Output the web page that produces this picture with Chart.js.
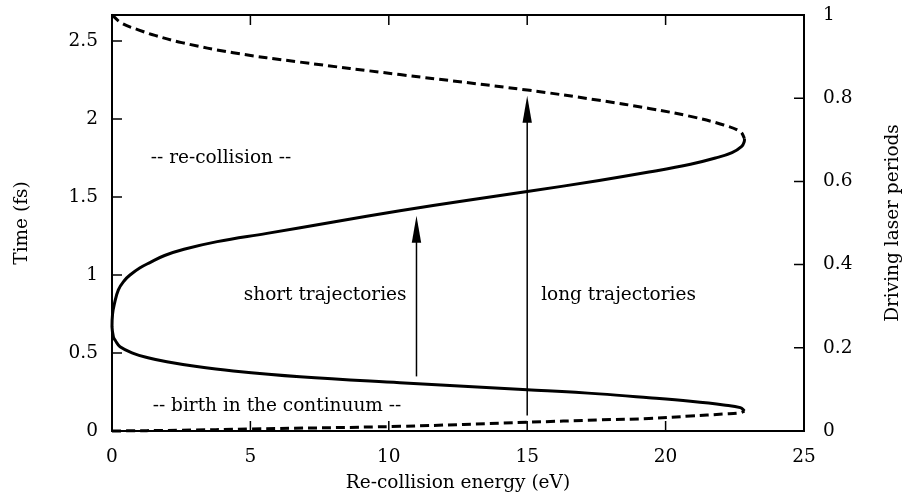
<!DOCTYPE html>
<html>
<head>
<meta charset="utf-8">
<script src="https://cdn.jsdelivr.net/npm/chart.js@4.4.0/dist/chart.umd.min.js"></script>
<style>
  html, body { margin: 0; padding: 0; background: #fff; }
  canvas { display: block; }
</style>
</head>
<body>
<canvas id="chart" width="917" height="499"></canvas>
<script>
// one period of the 800 nm driving laser, in fs (right axis runs 0..1 of it)
const period = 2.667;

// short trajectories, re-collision branch (solid, upper half), starting at zero energy
const shortReturnE = [0, 0.02, 0.08, 0.23, 0.45, 0.65, 1.0, 1.37, 1.9, 2.6, 3.8, 5.6, 8.0, 10.4, 12.8, 15.0, 17.6, 19.4, 20.9, 21.8, 22.4, 22.75, 22.84, 22.85];
const shortReturnT = [0.669, 0.75, 0.81, 0.905, 0.965, 1.0, 1.045, 1.08, 1.125, 1.165, 1.214, 1.267, 1.34, 1.412, 1.478, 1.535, 1.606, 1.66, 1.71, 1.75, 1.785, 1.825, 1.855, 1.876];

// short trajectories, birth branch (solid, lower half)
const shortBirthE = [0, 0.05, 0.12, 0.29, 0.77, 1.3, 1.98, 3.0, 4.38, 6.79, 10.4, 15.0, 17.6, 19.4, 20.9, 22.1, 22.7, 22.85];
const shortBirthT = [0.669, 0.604, 0.58, 0.540, 0.498, 0.47, 0.444, 0.415, 0.385, 0.348, 0.310, 0.265, 0.238, 0.213, 0.190, 0.167, 0.150, 0.128];

// long trajectories, re-collision branch (dashed, top)
const longReturnE = [0, 0.35, 0.95, 1.55, 2.52, 4.38, 6.79, 10.4, 15.0, 17.6, 19.4, 20.9, 22.1, 22.7, 22.85];
const longReturnT = [2.667, 2.615, 2.572, 2.536, 2.49, 2.425, 2.365, 2.285, 2.186, 2.12, 2.068, 2.017, 1.962, 1.919, 1.876];

// long trajectories, birth branch (dashed, bottom)
const longBirthE = [0, 2.5, 5.0, 10.4, 15.0, 17.6, 19.4, 20.9, 22.1, 22.7, 22.85];
const longBirthT = [0, 0.005, 0.013, 0.03, 0.056, 0.071, 0.08, 0.096, 0.109, 0.117, 0.128];

const xTicks = [0, 5, 10, 15, 20, 25];
const timeTicks = [0, 0.5, 1, 1.5, 2, 2.5];
const periodTicks = [0, 0.2, 0.4, 0.6, 0.8, 1];

const FONT = "'DejaVu Serif', serif";
const FS = 18.5;

function pts(xs, ys) {
  return xs.map((x, i) => ({ x: x, y: ys[i] }));
}

// the solid curve runs from the cut-off at the top, through zero energy, down to the cut-off at the bottom
const shortCurve = pts(shortReturnE, shortReturnT).reverse().concat(pts(shortBirthE, shortBirthT).slice(1));

// annotation text and arrows, placed in data coordinates
const notes = [
  { text: '-- re-collision --', x: 3.94, y: 1.75 },
  { text: 'short trajectories', x: 7.7, y: 0.872 },
  { text: 'long trajectories', x: 18.3, y: 0.872 },
  { text: '-- birth in the continuum --', x: 5.96, y: 0.156 }
];
const arrows = [
  { x: 11, from: 0.35, to: 1.38 },
  { x: 15, from: 0.10, to: 2.15 }
];

const framePlugin = {
  id: 'frame',
  afterDatasetsDraw(chart) {
    const { ctx, chartArea: a, scales: { x, y, y2 } } = chart;
    ctx.save();
    ctx.strokeStyle = '#000';
    ctx.fillStyle = '#000';

    // inward ticks, gnuplot style
    const tl = 10;
    ctx.lineWidth = 1.5;
    ctx.beginPath();
    xTicks.forEach(v => {
      const px = x.getPixelForValue(v);
      ctx.moveTo(px, a.bottom); ctx.lineTo(px, a.bottom - tl);
      ctx.moveTo(px, a.top); ctx.lineTo(px, a.top + tl);
    });
    timeTicks.forEach(v => {
      const py = y.getPixelForValue(v);
      ctx.moveTo(a.left, py); ctx.lineTo(a.left + tl, py);
    });
    periodTicks.forEach(v => {
      const py = y2.getPixelForValue(v);
      ctx.moveTo(a.right, py); ctx.lineTo(a.right - tl, py);
    });
    ctx.stroke();

    ctx.lineWidth = 2;
    ctx.strokeRect(a.left, a.top, a.right - a.left, a.bottom - a.top);

    // arrows
    const headL = 27, headW = 4.7;
    arrows.forEach(ar => {
      const px = x.getPixelForValue(ar.x);
      const y0 = y.getPixelForValue(ar.from);
      const y1 = y.getPixelForValue(ar.to);
      ctx.lineWidth = 1.5;
      ctx.beginPath();
      ctx.moveTo(px, y0);
      ctx.lineTo(px, y1 + headL - 2);
      ctx.stroke();
      ctx.beginPath();
      ctx.moveTo(px, y1);
      ctx.lineTo(px - headW, y1 + headL);
      ctx.lineTo(px + headW, y1 + headL);
      ctx.closePath();
      ctx.fill();
    });

    // labels inside the plot
    ctx.font = FS + 'px ' + FONT;
    ctx.textAlign = 'center';
    ctx.textBaseline = 'middle';
    notes.forEach(n => {
      ctx.fillText(n.text, x.getPixelForValue(n.x), y.getPixelForValue(n.y));
    });

    // right axis title reads bottom to top
    ctx.translate(893, (a.top + a.bottom) / 2);
    ctx.rotate(-Math.PI / 2);
    ctx.fillText('Driving laser periods', 0, 0);
    ctx.restore();
  }
};

function lineSet(data, dashed) {
  return {
    data: data,
    showLine: true,
    borderColor: '#000',
    borderWidth: 3,
    borderDash: dashed ? [9, 5] : [],
    pointRadius: 0,
    tension: 0.4,
    fill: false,
    clip: 3
  };
}

// fixed axis sizes, and no extra room for overhanging tick labels
function fixSize(w, h) {
  return s => {
    if (w) s.width = w;
    if (h) s.height = h;
    s.paddingTop = 0; s.paddingBottom = 0; s.paddingLeft = 0; s.paddingRight = 0;
  };
}

new Chart(document.getElementById('chart'), {
  type: 'scatter',
  data: {
    datasets: [
      lineSet(shortCurve, false),
      lineSet(pts(longReturnE, longReturnT), true),
      lineSet(pts(longBirthE, longBirthT), true)
    ]
  },
  options: {
    responsive: false,
    animation: false,
    devicePixelRatio: 1,
    layout: { padding: { top: 15, left: 0, right: 0, bottom: 0 } },
    plugins: { legend: { display: false }, tooltip: { enabled: false } },
    scales: {
      x: {
        type: 'linear', position: 'bottom', min: 0, max: 25,
        afterBuildTicks: s => { s.ticks = xTicks.map(v => ({ value: v })); },
        afterFit: fixSize(0, 68),
        grid: { display: false, drawTicks: false },
        border: { display: false },
        ticks: { color: '#000', font: { family: FONT, size: FS }, padding: 15, maxRotation: 0, callback: v => String(v) },
        title: { display: true, text: 'Re-collision energy (eV)', color: '#000', font: { family: FONT, size: FS }, padding: { top: 0, bottom: 5 } }
      },
      y: {
        type: 'linear', position: 'left', min: 0, max: period,
        afterBuildTicks: s => { s.ticks = timeTicks.map(v => ({ value: v })); },
        afterFit: fixSize(112, 0),
        grid: { display: false, drawTicks: false },
        border: { display: false },
        ticks: { color: '#000', font: { family: FONT, size: FS }, padding: 14, callback: v => String(v) },
        title: { display: true, text: 'Time (fs)', color: '#000', font: { family: FONT, size: FS }, padding: { top: 11, bottom: 0 } }
      },
      y2: {
        type: 'linear', position: 'right', min: 0, max: 1,
        afterBuildTicks: s => { s.ticks = periodTicks.map(v => ({ value: v })); },
        afterFit: fixSize(113, 0),
        grid: { display: false, drawTicks: false },
        border: { display: false },
        ticks: { color: '#000', font: { family: FONT, size: FS }, padding: 19, callback: v => String(v) }
      }
    }
  },
  plugins: [framePlugin]
});
</script>
</body>
</html>
